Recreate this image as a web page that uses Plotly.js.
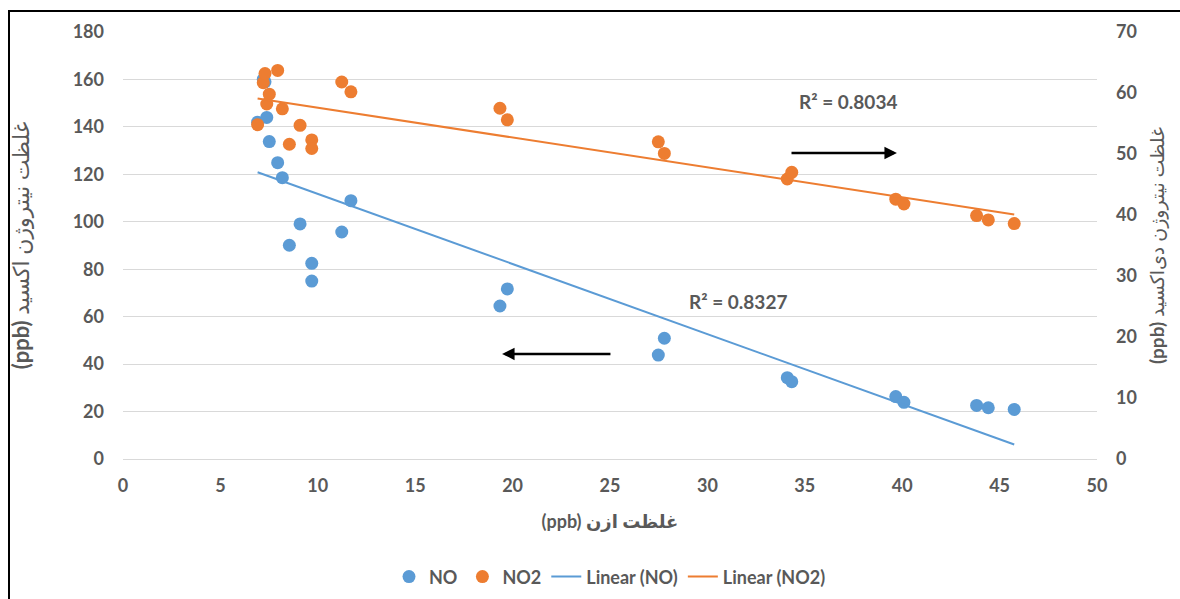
<!DOCTYPE html>
<html>
<head>
<meta charset="utf-8">
<script src="https://cdn.plot.ly/plotly-3.0.1.min.js"></script>
<style>
  html, body { margin: 0; padding: 0; background: #fff; }
  #chart { position: absolute; left: 0; top: 0; width: 1180px; height: 599px; }
  #frame { position: absolute; left: 8px; top: 10px; width: 1200px; height: 620px;
           border-left: 2px solid #000; border-top: 2px solid #000; pointer-events: none; }
</style>
</head>
<body>
<div id="chart"></div>
<div id="frame"></div>
<script>
// Ozone concentration (ppb) – x values
const ozone = [6.91, 7.20, 7.29, 7.38, 7.51, 7.94, 8.18, 8.54, 9.09, 9.69, 9.69, 11.23, 11.70,
               19.35, 19.73, 27.48, 27.79, 34.10, 34.33, 39.67, 40.09, 43.82, 44.42, 45.75];
// NO concentration (ppb) – left axis
const noValues = [142, 160, 159, 144, 133.8, 124.9, 118.6, 90.1, 99.1, 82.5, 75.0, 95.7, 108.9,
                  64.5, 71.7, 43.8, 50.9, 34.3, 32.6, 26.3, 23.9, 22.6, 21.6, 20.9];
// NO2 concentration (ppb) – right axis
const no2Values = [54.8, 61.7, 63.2, 58.2, 59.8, 63.7, 57.4, 51.6, 54.7, 52.3, 50.9, 61.8, 60.2,
                   57.5, 55.6, 52.0, 50.1, 45.9, 47.0, 42.6, 41.8, 39.9, 39.2, 38.6];
// Labels
const seriesNames = ['NO', 'NO2', 'Linear (NO)', 'Linear (NO2)'];
const r2Labels = ['R² = 0.8327', 'R² = 0.8034'];
const xTitle = '<b>(ppb) غلظت ازن</b>';
const yLeftTitle = '<b>(ppb)</b> غلظت نیتروژن اکسید';
const yRightTitle = '<b>(ppb)</b> غلظت نیتروژن دی‌اکسید';

const blue = '#5B9BD5', orange = '#ED7D31', gray = '#595959';
const fontFam = "Lato, 'DejaVu Sans', sans-serif";

function linFit(xs, ys) {
  const n = xs.length;
  let sx = 0, sy = 0, sxx = 0, sxy = 0;
  for (let i = 0; i < n; i++) { sx += xs[i]; sy += ys[i]; sxx += xs[i]*xs[i]; sxy += xs[i]*ys[i]; }
  const b = (n*sxy - sx*sy) / (n*sxx - sx*sx);
  const a = (sy - b*sx) / n;
  const x0 = Math.min(...xs), x1 = Math.max(...xs);
  return { x: [x0, x1], y: [a + b*x0, a + b*x1] };
}
const fitNO = linFit(ozone, noValues);
const fitNO2 = linFit(ozone, no2Values);

const traces = [
  { x: ozone, y: noValues, type: 'scatter', mode: 'markers', name: seriesNames[0],
    marker: { color: blue, size: 13 }, yaxis: 'y' },
  { x: ozone, y: no2Values, type: 'scatter', mode: 'markers', name: seriesNames[1],
    marker: { color: orange, size: 13 }, yaxis: 'y2' },
  { x: fitNO.x, y: fitNO.y, type: 'scatter', mode: 'lines', name: seriesNames[2],
    line: { color: blue, width: 2 }, yaxis: 'y' },
  { x: fitNO2.x, y: fitNO2.y, type: 'scatter', mode: 'lines', name: seriesNames[3],
    line: { color: orange, width: 2 }, yaxis: 'y2' }
];

const layout = {
  width: 1180, height: 599,
  margin: { l: 123, r: 83, t: 32, b: 140, autoexpand: false },
  paper_bgcolor: '#fff', plot_bgcolor: '#fff',
  font: { family: fontFam, color: gray, size: 17 },
  showlegend: true,
  legend: { orientation: 'h', x: 0.5, xanchor: 'center', y: -0.276, yanchor: 'middle',
            font: { family: fontFam, size: 18, color: gray, weight: 'bold' },
            traceorder: 'normal' },
  xaxis: {
    range: [0, 50], dtick: 5, tick0: 0, showgrid: false, zeroline: false,
    showline: false, ticks: '', ticklabelstandoff: 14,
    tickfont: { family: fontFam, size: 18, color: gray, weight: 'bold' },
    title: { text: xTitle, standoff: 20, font: { family: fontFam, size: 18, color: gray } }
  },
  yaxis: {
    range: [0, 180], dtick: 20, tick0: 0, showgrid: true, gridcolor: '#D9D9D9', gridwidth: 1,
    zeroline: true, zerolinecolor: '#D9D9D9', zerolinewidth: 1, showline: false, ticks: '',
    ticklabelstandoff: 18,
    tickfont: { family: fontFam, size: 18, color: gray, weight: 'bold' },
    title: { text: yLeftTitle, standoff: 36, font: { family: fontFam, size: 22, color: gray } }
  },
  yaxis2: {
    range: [0, 70], dtick: 10, tick0: 0, overlaying: 'y', side: 'right',
    showgrid: false, zeroline: false, showline: false, ticks: '', ticklabelstandoff: 18,
    tickfont: { family: fontFam, size: 18, color: gray, weight: 'bold' },
    title: { text: yRightTitle, standoff: 14, font: { family: fontFam, size: 19, color: gray } }
  },
  annotations: [
    { x: 31.57, y: 66.2, xref: 'x', yref: 'y', text: '<b>' + r2Labels[0] + '</b>', showarrow: false,
      font: { family: fontFam, size: 19, color: gray } },
    { x: 37.22, y: 150.9, xref: 'x', yref: 'y', text: '<b>' + r2Labels[1] + '</b>', showarrow: false,
      font: { family: fontFam, size: 19, color: gray } },
    { x: 39.73, y: 129, ax: 34.24, ay: 129, xref: 'x', yref: 'y', axref: 'x', ayref: 'y',
      text: '', showarrow: true, arrowhead: 2, arrowsize: 1, arrowwidth: 2.5, arrowcolor: '#000' },
    { x: 19.46, y: 44.3, ax: 25.1, ay: 44.3, xref: 'x', yref: 'y', axref: 'x', ayref: 'y',
      text: '', showarrow: true, arrowhead: 2, arrowsize: 1, arrowwidth: 2.5, arrowcolor: '#000' }
  ]
};

Plotly.newPlot('chart', traces, layout, { displayModeBar: false, staticPlot: true });
</script>
</body>
</html>
